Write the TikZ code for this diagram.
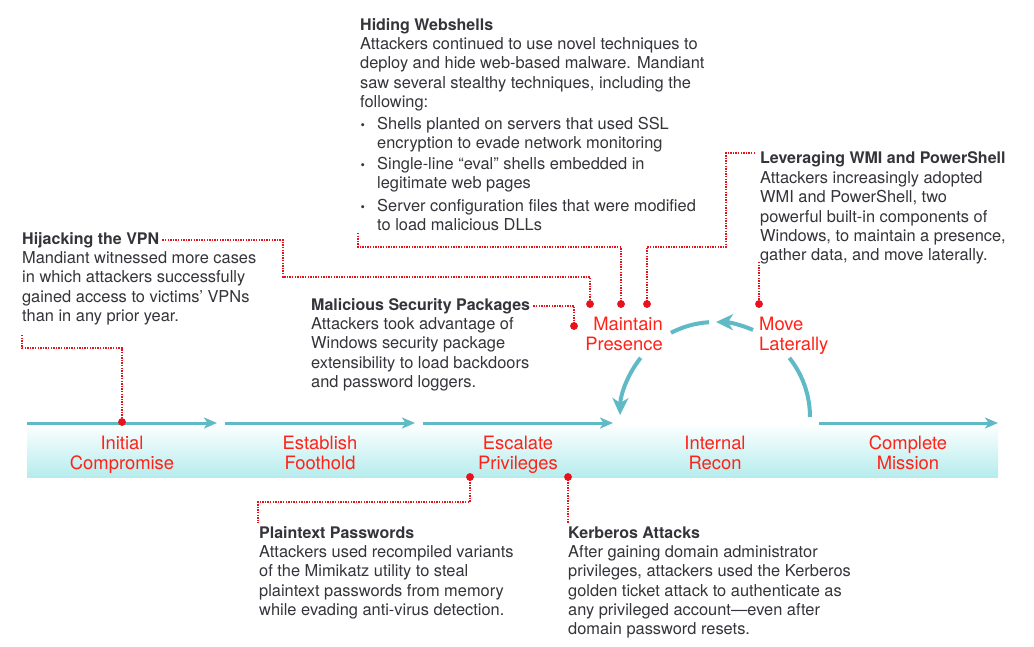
\documentclass[tikz,border=0pt]{standalone}
\usepackage{fontspec}
\setmainfont{TeX Gyre Heros}
\usetikzlibrary{arrows.meta}
\definecolor{txt}{RGB}{52,52,58}
\definecolor{lred}{RGB}{255,34,24}
\definecolor{dred}{RGB}{232,18,28}
\definecolor{tealc}{RGB}{96,186,197}
\definecolor{bandc}{RGB}{182,236,237}
\begin{document}
\begin{tikzpicture}[x=1pt,y=-1pt,
  ttl/.style={font=\fontsize{16}{19.3}\selectfont\bfseries, text=txt, inner sep=0pt, anchor=base west},
  body/.style={font=\fontsize{16.4}{19.3}\selectfont, text=txt, inner sep=0pt, align=left, anchor=base west},
  bitem/.style={font=\fontsize{16.4}{19}\selectfont, text=txt, inner sep=0pt, align=left, anchor=base west},
  bul/.style={font=\fontsize{12.5}{13}\selectfont, text=txt, inner sep=0pt, anchor=base west},
  stage/.style={font=\fontsize{18.4}{19.5}\selectfont, text=lred, inner sep=0pt, align=center, anchor=base},
  conn/.style={draw=dred, line width=1.6pt, dash pattern=on 1.4pt off 1.2pt},
  pin/.style={circle, fill=dred, inner sep=0pt, minimum size=7.5pt},
  flow/.style={draw=tealc, line width=3pt, -{Stealth[length=13pt, width=11pt, inset=3.5pt]}},
  cyc/.style={draw=tealc, line width=4pt},
  cycarr/.style={cyc, -{Stealth[length=17pt, width=16pt, inset=5pt]}}
]
\fill[white] (0,0) rectangle (1034,646);
\useasboundingbox (0,0) rectangle (1034,646);

% band
\shade[top color=white, middle color=bandc!70!white, bottom color=bandc] (27,423) rectangle (998,477);

% band arrows
\coordinate (a0) at (27,423);
\coordinate (a1) at (217,423);
\coordinate (a2) at (225,423);
\coordinate (a3) at (415,423);
\coordinate (a4) at (423,423);
\coordinate (a5) at (613,423);
\coordinate (a6) at (819,423);
\coordinate (a7) at (998,423);
\draw[flow] (a0) -- (a1);
\draw[flow] (a2) -- (a3);
\draw[flow] (a4) -- (a5);
\draw[flow] (a6) -- (a7);

% stage labels (anchor = baseline of last line)
\node[stage] (sInit) at (122,469) {Initial\\Compromise};
\node[stage] (sEst) at (320,469) {Establish\\Foothold};
\node[stage] (sEsc) at (518,469) {Escalate\\Privileges};
\node[stage] (sRec) at (715,469) {Internal\\Recon};
\node[stage] (sCom) at (908,469) {Complete\\Mission};
\node[stage, align=right, anchor=base east] (sMain) at (663,350) {Maintain\\Presence};
\node[stage, align=left, anchor=base west] (sMove) at (759,350) {Move\\Laterally};

% cycle arcs
\coordinate (cc) at (715,417);
\draw[cyc] ([shift={(0:95)}]cc) arc[start angle=0, end angle=-38.5, radius=95];
\draw[cycarr] ([shift={(-66.4:95)}]cc) arc[start angle=-66.4, end angle=-89.4, radius=95];
\draw[cyc] ([shift={(-93.6:95)}]cc) arc[start angle=-93.6, end angle=-117.6, radius=95];
\draw[cycarr] ([shift={(-141.5:95)}]cc) arc[start angle=-141.5, end angle=-178.8, radius=95];

% text blocks (multi-line nodes anchored at the baseline of their last line)
\node[ttl] (tWeb) at (360,30.5) {Hiding Webshells};
\node[body] (bWeb) at (360,107.4) {Attackers continued to use novel techniques to\\deploy and hide web-based malware. Mandiant\\saw several stealthy techniques, including the\\following:};
\node[bul] (u1) at (360.5,129.5) {•};
\node[bitem] (i1) at (377,148.5) {Shells planted on servers that used SSL\\encryption to evade network monitoring};
\node[bul] (u2) at (360.5,169.5) {•};
\node[bitem] (i2) at (377,188.5) {Single-line “eval" shells embedded in\\legitimate web pages};
\node[bul] (u3) at (360.5,211.5) {•};
\node[bitem] (i3) at (377,230.5) {Server configuration files that were modified\\to load malicious DLLs};

\node[ttl] (tLev) at (760,163.5) {Leveraging WMI and PowerShell};
\node[body] (bLev) at (760,260.7) {Attackers increasingly adopted\\WMI and PowerShell, two\\powerful built-in components of\\Windows, to maintain a presence,\\gather data, and move laterally.};

\node[ttl] (tVPN) at (22,244.5) {Hijacking the VPN};
\node[body] (bVPN) at (22,321.4) {Mandiant witnessed more cases\\in which attackers successfully\\gained access to victims' VPNs\\than in any prior year.};

\node[ttl] (tMal) at (311,310) {Malicious Security Packages};
\node[body] (bMal) at (311,387.4) {Attackers took advantage of\\Windows security package\\extensibility to load backdoors\\and password loggers.};

\node[ttl] (tPla) at (259,538.5) {Plaintext Passwords};
\node[body] (bPla) at (259,615.4) {Attackers used recompiled variants\\of the Mimikatz utility to steal\\plaintext passwords from memory\\while evading anti-virus detection.};

\node[ttl] (tKer) at (568,538.5) {Kerberos Attacks};
\node[body] (bKer) at (568,634.7) {After gaining domain administrator\\privileges, attackers used the Kerberos\\golden ticket attack to authenticate as\\any privileged account—even after\\domain password resets.};

% pins
\node[pin] (dH) at (590,304) {};
\node[pin] (dW) at (621,304) {};
\node[pin] (dL) at (647,304) {};
\node[pin] (dMal) at (574,326) {};
\node[pin] (dM) at (759,304) {};
\node[pin] (dI) at (122,422) {};
\node[pin] (dP) at (470,477) {};
\node[pin] (dK) at (568,477) {};

% connector corners
\coordinate (vpnK) at (283,277);
\coordinate (wsS) at (358,233);
\coordinate (wsK) at (358,247);
\coordinate (levS) at (755,153);
\coordinate (levK) at (726,247);
\coordinate (mvS) at (759,262);
\coordinate (iniS) at (22,335);
\coordinate (iniK) at (22,348);
\coordinate (ptK) at (258,502);
\coordinate (ptE) at (258,523);
\coordinate (kbE) at (568,523);

\draw[conn] ([xshift=3pt]tVPN.east) -| (vpnK) -| (dH.center);
\draw[conn] (wsS) -- (wsK) -| (dW.center);
\draw[conn] (levS) -| (levK) -| (dL.center);
\draw[conn] ([xshift=3pt]tMal.east) -| (dMal.center);
\draw[conn] (mvS) -- (dM.center);
\draw[conn] (iniS) -- (iniK) -| (dI.center);
\draw[conn] (dP.center) |- (ptK) -- (ptE);
\draw[conn] (dK.center) -- (kbE);

% pins on top of the connectors
\foreach \p in {dH,dW,dL,dMal,dM,dI,dP,dK} \fill[dred] (\p) circle[radius=3.75];
\end{tikzpicture}
\end{document}
